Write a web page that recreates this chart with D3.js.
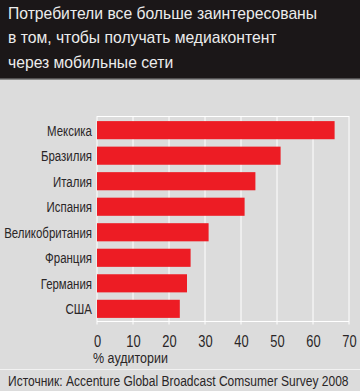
<!DOCTYPE html>
<html><head><meta charset="utf-8">
<script src="https://cdn.jsdelivr.net/npm/d3@7"></script>
<style>
html,body{margin:0;padding:0;background:#dcdcdc;}
svg{display:block;}
text{font-family:"Liberation Sans",Arial,sans-serif;}
</style></head>
<body>
<svg id="c" width="360" height="391"></svg>
<script>
const titleLines = ["Потребители все больше заинтересованы","в том, чтобы получать медиаконтент","через мобильные сети"];
const categories = ["Мексика","Бразилия","Италия","Испания","Великобритания","Франция","Германия","США"];
const values = [66,51,44,41,31,26,25,23];
const tickValues = [0,10,20,30,40,50,60,70];
const axisLabel = "% аудитории";
const source = "Источник: Accenture Global Broadcast Comsumer Survey 2008";

// horizontally condense text around its anchor x (reference uses a condensed face)
function condense(sel, k){
  sel.each(function(){
    const ax = +(this.getAttribute("x") || 0);
    d3.select(this).attr("transform", `translate(${ax},0) scale(${k},1) translate(${-ax},0)`);
  });
}
function fitTo(sel, target){
  const w = sel.node().getComputedTextLength();
  return target / w;
}

const svg = d3.select("#c");
svg.append("rect").attr("x",0).attr("y",0).attr("width",360).attr("height",391).attr("fill","#dcdcdc");
svg.append("rect").attr("x",0).attr("y",0).attr("width",360).attr("height",79).attr("fill","#1b1718");
svg.append("rect").attr("x",0).attr("y",78.5).attr("width",360).attr("height",1.5).attr("fill","#8a8a8a");

const tl = svg.selectAll("text.title").data(titleLines).enter().append("text")
  .attr("class","title").attr("x",8).attr("y",(d,i)=>19+i*24.3)
  .attr("fill","#ececec").attr("font-size",16.8).text(d=>d);
const kTitle = fitTo(tl.filter((d,i)=>i===0), 309);
condense(tl, kTitle);

const x = d3.scaleLinear().domain([0,70]).range([97,349]);
const y = d3.scaleBand().domain(categories).range([116,323]).paddingInner(0.29).paddingOuter(0.2);

const g = svg.append("g");
g.selectAll("line.grid").data(tickValues).enter().append("line")
  .attr("x1",d=>x(d)).attr("x2",d=>x(d)).attr("y1",116).attr("y2",324.5)
  .attr("stroke","#ffffff").attr("stroke-width",1);
g.append("line").attr("x1",x(0)).attr("x2",x(70)).attr("y1",116.5).attr("y2",116.5).attr("stroke","#fff");
g.append("line").attr("x1",x(0)).attr("x2",x(70)).attr("y1",321.5).attr("y2",321.5).attr("stroke","#fff");

g.selectAll("rect.bar").data(values).enter().append("rect")
  .attr("x",x(0)).attr("y",(d,i)=>y(categories[i]))
  .attr("width",d=>x(d)-x(0)).attr("height",y.bandwidth())
  .attr("fill","#ed1c24");

const cl = g.selectAll("text.cat").data(categories).enter().append("text")
  .attr("x",92).attr("y",d=>y(d)+y.bandwidth()/2).attr("dy","0.36em")
  .attr("text-anchor","end").attr("fill","#2a2627").attr("font-size",15.5).text(d=>d);
const kCat = fitTo(cl.filter(d=>d==="Великобритания"), 88);
condense(cl, kCat);

const axis = d3.axisBottom(x).tickValues(tickValues).tickSize(0).tickPadding(0);
const ax = svg.append("g").attr("transform","translate(0,347)").call(axis);
ax.select(".domain").remove();
ax.selectAll("text").attr("font-size",16.5).attr("fill","#2a2627")
  .attr("font-family","'Liberation Sans',Arial,sans-serif").attr("dy",0);
condense(ax.selectAll("text"), 0.78);

const al = svg.append("text").attr("x",93).attr("y",363.5).attr("font-size",15).attr("fill","#2a2627").text(axisLabel);
condense(al, fitTo(al, 75));
svg.append("line").attr("x1",0).attr("x2",360).attr("y1",369.5).attr("y2",369.5).attr("stroke","#f2f2f2");
const src = svg.append("text").attr("x",8).attr("y",386.5).attr("font-size",15).attr("fill","#2a2627").text(source);
condense(src, fitTo(src, 341));
</script>
</body></html>
